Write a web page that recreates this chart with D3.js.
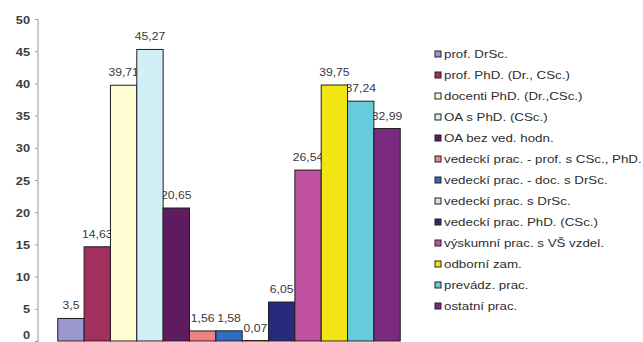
<!DOCTYPE html>
<html>
<head>
<meta charset="utf-8">
<script src="https://cdn.jsdelivr.net/npm/d3@7"></script>
<style>
  html, body { margin: 0; padding: 0; background: #ffffff; }
  svg { display: block; }
  text { font-family: "Liberation Sans", Arial, sans-serif; }
</style>
</head>
<body>
<svg id="chart" width="643" height="342"></svg>
<script>
// Staff groups (one bar each) and their percentages
const seriesNames = [
  "prof. DrSc.",
  "prof. PhD. (Dr., CSc.)",
  "docenti PhD. (Dr.,CSc.)",
  "OA s PhD. (CSc.)",
  "OA bez ved. hodn.",
  "vedeckí prac. - prof. s CSc., PhD.",
  "vedeckí prac. - doc. s DrSc.",
  "vedeckí prac. s DrSc.",
  "vedeckí prac. PhD. (CSc.)",
  "výskumní prac. s VŠ vzdel.",
  "odborní zam.",
  "prevádz. prac.",
  "ostatní prac."
];
const seriesValues = [3.5, 14.63, 39.71, 45.27, 20.65, 1.56, 1.58, 0.07, 6.05, 26.54, 39.75, 37.24, 32.99];
const seriesColors = [
  "#9a98cf", "#a2305f", "#fffbd2", "#d2eef6", "#5f1b60", "#f08282", "#2f6dc0",
  "#dcdaf2", "#262a7a", "#c050a0", "#f2e612", "#66cbdc", "#7b2a82"
];
const yTicks = [0, 5, 10, 15, 20, 25, 30, 35, 40, 45, 50];

const svg = d3.select("#chart");
const textStretch = 1.16;   // the labels are set slightly wide

const x = d3.scaleBand()
  .domain(seriesNames)
  .range([38, 420])
  .paddingInner(0)
  .paddingOuter(0.75);

const y = d3.scaleLinear().domain([0, 50]).range([341, 19]);

const fmt = v => String(v).replace(".", ",");

function wideText(sel, px, py) {
  sel.attr("transform", (d, i) => `translate(${px(d, i)},${py(d, i)}) scale(${textStretch},1)`);
  return sel;
}

// Vertical axis
const axis = d3.axisLeft(y).tickValues(yTicks).tickSize(3).tickPadding(5);
const axisG = svg.append("g").attr("transform", "translate(38,0)").call(axis);
axisG.select(".domain").attr("stroke", "#9a9a9a").attr("d", "M0,19V342");
axisG.selectAll(".tick line").attr("stroke", "#9a9a9a");
axisG.selectAll(".tick text").each(function(d) {
  // the bottom label is lifted a little so it stays inside the frame
  const dy = d === 0 ? -3 : 4;
  d3.select(this)
    .attr("x", null).attr("dy", null).attr("y", null)
    .attr("transform", `translate(-8,${dy}) scale(${textStretch},1)`)
    .attr("text-anchor", "end")
    .attr("fill", "#3c3c3c")
    .attr("font-size", 11)
    .attr("font-weight", "bold")
    .attr("font-family", "'Liberation Sans', Arial, sans-serif");
});

// Value labels sit under the bars so neighbouring bars overlap their edges
const labels = svg.append("g")
  .selectAll("text")
  .data(seriesValues)
  .join("text")
  .attr("text-anchor", "middle")
  .attr("font-size", 10.5)
  .attr("fill", "#3a3a3a")
  .text(d => fmt(d));
wideText(labels, (d, i) => x(seriesNames[i]) + x.bandwidth() / 2, d => y(d) - 9);

// Bars
svg.append("g")
  .selectAll("rect")
  .data(seriesValues)
  .join("rect")
  .attr("x", (d, i) => x(seriesNames[i]))
  .attr("width", x.bandwidth())
  .attr("y", d => y(d))
  .attr("height", d => y(0) - y(d))
  .attr("fill", (d, i) => seriesColors[i])
  .attr("stroke", "#1e1e1e")
  .attr("stroke-width", 1);

// Legend
const legendRow = i => 54 + i * 21;
const legend = svg.append("g");
legend.selectAll("rect")
  .data(seriesNames)
  .join("rect")
  .attr("x", 435)
  .attr("y", (d, i) => legendRow(i) - 3)
  .attr("width", 6)
  .attr("height", 6)
  .attr("fill", (d, i) => seriesColors[i])
  .attr("stroke", "#222")
  .attr("stroke-width", 1);
const legendText = legend.selectAll("text")
  .data(seriesNames)
  .join("text")
  .attr("font-size", 11.5)
  .attr("fill", "#2e2e2e")
  .text(d => d);
wideText(legendText, () => 444, (d, i) => legendRow(i) + 4);
</script>
</body>
</html>
